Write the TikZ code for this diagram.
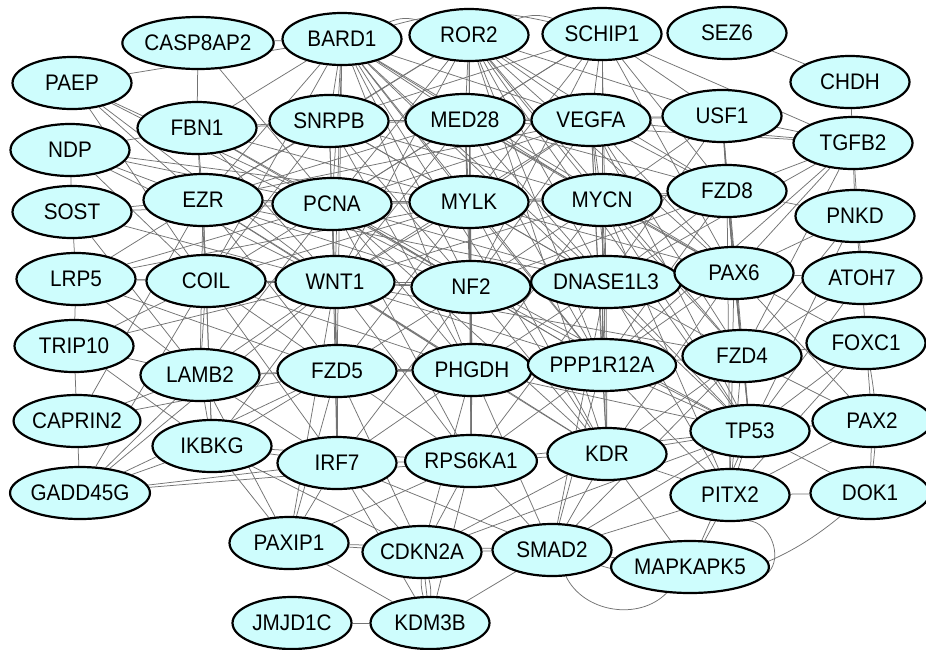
\documentclass[tikz,border=0pt]{standalone}
\usepackage{fontspec}
\setmainfont{Liberation Sans}[FakeStretch=0.92]
\usetikzlibrary{shapes.geometric,backgrounds}
\definecolor{nodefill}{RGB}{206,253,253}
\definecolor{edgecol}{RGB}{115,115,115}
\tikzset{
  gene/.style={ellipse, draw=black, line width=2.2pt, fill=nodefill, minimum width=119pt, minimum height=52pt, inner sep=0pt, font=\fontsize{22.5}{24}\selectfont},
  edge/.style={draw=edgecol, line width=0.75pt},
}
\begin{document}
\begin{tikzpicture}[x=1pt,y=-1pt]
\useasboundingbox (0,0) rectangle (926,649);
% nodes
\node[gene] (casp) at (198,43) {CASP8AP2};
\node[gene] (bard) at (342,39) {BARD1};
\node[gene] (ror) at (469,35) {ROR2};
\node[gene] (schip) at (602,34) {SCHIP1};
\node[gene] (sez) at (727,33) {SEZ6};
\node[gene] (chdh) at (850,82) {CHDH};
\node[gene] (paep) at (72,83) {PAEP};
\node[gene] (fbn) at (197,128) {FBN1};
\node[gene] (snrpb) at (329,121) {SNRPB};
\node[gene] (med) at (465,120) {MED28};
\node[gene] (vegfa) at (591,120) {VEGFA};
\node[gene] (usf) at (722,116) {USF1};
\node[gene] (tgfb) at (853,143) {TGFB2};
\node[gene] (ndp) at (70,150) {NDP};
\node[gene] (ezr) at (203,200) {EZR};
\node[gene] (pcna) at (332,204) {PCNA};
\node[gene] (mylk) at (469,202) {MYLK};
\node[gene] (mycn) at (602,200) {MYCN};
\node[gene] (fzd8) at (727,191) {FZD8};
\node[gene] (pnkd) at (855,216) {PNKD};
\node[gene] (sost) at (72,212) {SOST};
\node[gene] (lrp) at (76,279) {LRP5};
\node[gene] (coil) at (206,281) {COIL};
\node[gene] (wnt) at (335,282) {WNT1};
\node[gene] (nf) at (471,287) {NF2};
\node[gene] (dnase) at (606,282) {DNASE1L3};
\node[gene] (pax6) at (734,273) {PAX6};
\node[gene] (atoh) at (862,278) {ATOH7};
\node[gene] (trip) at (74,346) {TRIP10};
\node[gene] (lamb) at (200,375) {LAMB2};
\node[gene] (fzd5) at (337,371) {FZD5};
\node[gene] (phgdh) at (472,370) {PHGDH};
\node[gene] (ppp) at (602,365) {PPP1R12A};
\node[gene] (fzd4) at (742,356) {FZD4};
\node[gene] (foxc) at (866,343) {FOXC1};
\node[gene] (caprin) at (77,421) {CAPRIN2};
\node[gene] (ikbkg) at (212,446) {IKBKG};
\node[gene] (irf) at (337,463) {IRF7};
\node[gene] (rps) at (471,461) {RPS6KA1};
\node[gene] (kdr) at (607,454) {KDR};
\node[gene] (tp53) at (750,431) {TP53};
\node[gene] (pax2) at (872,421) {PAX2};
\node[gene] (gadd) at (80,493) {GADD45G};
\node[gene] (pitx) at (730,495) {PITX2};
\node[gene] (dok) at (870,493) {DOK1};
\node[gene] (paxip) at (289,543) {PAXIP1};
\node[gene] (cdkn) at (422,552) {CDKN2A};
\node[gene] (smad) at (552,550) {SMAD2};
\node[gene] (mapk) at (690,567) {MAPKAPK5};
\node[gene] (jmjd) at (292,623) {JMJD1C};
\node[gene] (kdm) at (430,623) {KDM3B};
% edges
\begin{pgfonlayer}{background}
\fill[white] (0,0) rectangle (926,649);
\foreach \a/\b in {
casp/bard, casp/fbn, casp/pcna,
paep/bard, paep/ezr, paep/coil, paep/wnt, paep/pcna, paep/nf,
ndp/sost, ndp/fbn, ndp/ezr, ndp/wnt, ndp/mylk, ndp/pcna, ndp/coil,
sost/lrp, sost/ezr, sost/wnt, sost/lamb, sost/pcna,
lrp/coil, lrp/trip, lrp/ezr, lrp/wnt, lrp/fzd5, lrp/lamb, lrp/pcna, lrp/mylk,
trip/caprin, trip/lamb, trip/ikbkg, trip/coil, trip/wnt,
caprin/gadd, caprin/lamb, caprin/ezr, caprin/fzd5,
gadd/ikbkg, gadd/lamb, gadd/irf, gadd/coil, gadd/wnt, gadd/rps, gadd/fzd5,
fbn/ezr, fbn/snrpb, fbn/pcna, fbn/mylk, fbn/coil, fbn/wnt, fbn/med, fbn/nf,
bard/snrpb, bard/pcna, bard/med, bard/mylk, bard/mycn, bard/vegfa, bard/ezr, bard/wnt, bard/nf, bard/dnase, bard/fbn, bard/coil, bard/phgdh, bard/ppp, bard/pax6, bard/tp53, bard/kdr, bard/fzd5,
ror/med, ror/mylk, ror/nf, ror/pcna, ror/snrpb, ror/vegfa, ror/mycn, ror/dnase, ror/fzd8, ror/pax6, ror/wnt, ror/ezr, ror/phgdh, ror/ppp, ror/usf, ror/fzd4, ror/tp53, ror/kdr, ror/rps,
schip/vegfa, schip/mycn, schip/usf, schip/tgfb, schip/fzd8, schip/med, schip/mylk, schip/dnase, schip/nf, schip/pcna, schip/pax6, schip/snrpb, schip/ppp,
sez/chdh, chdh/tgfb,
usf/tgfb, usf/fzd8, usf/mycn, usf/pax6, usf/vegfa, usf/med, usf/dnase, usf/tp53, usf/fzd4,
tgfb/pnkd, tgfb/vegfa, tgfb/pax6, tgfb/fzd8, tgfb/dnase, tgfb/ppp, tgfb/fzd4, tgfb/atoh, tgfb/med,
pnkd/atoh, pnkd/fzd8, pnkd/pax6, pnkd/fzd4, pnkd/tp53,
atoh/foxc, atoh/pax6, atoh/fzd4, atoh/tp53,
foxc/pax6, foxc/fzd4, foxc/tp53, foxc/pitx, foxc/pax2,
pax2/tp53, pax2/dok, pax2/pitx, pax2/fzd4, pax2/pax6,
dok/pitx, dok/tp53,
snrpb/pcna, snrpb/med, snrpb/mylk, snrpb/mycn, snrpb/ezr, snrpb/wnt, snrpb/nf, snrpb/vegfa, snrpb/dnase, snrpb/phgdh, snrpb/coil,
med/mylk, med/vegfa, med/pcna, med/mycn, med/nf, med/dnase, med/wnt, med/ezr, med/phgdh, med/ppp, med/fzd8, med/pax6,
vegfa/mycn, vegfa/mylk, vegfa/dnase, vegfa/fzd8, vegfa/pcna, vegfa/nf, vegfa/pax6, vegfa/ppp, vegfa/kdr, vegfa/tp53, vegfa/fzd4, vegfa/wnt, vegfa/ezr,
ezr/pcna, ezr/coil, ezr/wnt, ezr/mylk, ezr/nf, ezr/lamb, ezr/fzd5, ezr/ikbkg, ezr/phgdh, ezr/dnase,
pcna/mylk, pcna/wnt, pcna/nf, pcna/coil, pcna/mycn, pcna/dnase, pcna/fzd5, pcna/phgdh, pcna/ppp, pcna/irf, pcna/rps, pcna/lamb, pcna/tp53, pcna/kdr,
mylk/mycn, mylk/nf, mylk/wnt, mylk/dnase, mylk/phgdh, mylk/ppp, mylk/pax6, mylk/fzd8, mylk/fzd5, mylk/coil, mylk/kdr, mylk/rps,
mycn/dnase, mycn/fzd8, mycn/pax6, mycn/nf, mycn/ppp, mycn/kdr, mycn/tp53, mycn/fzd4, mycn/phgdh, mycn/wnt, mycn/pitx,
fzd8/pax6, fzd8/dnase, fzd8/fzd4, fzd8/tp53, fzd8/ppp, fzd8/nf, fzd8/pitx,
coil/wnt, coil/lamb, coil/fzd5, coil/nf, coil/ikbkg, coil/irf, coil/phgdh,
wnt/nf, wnt/fzd5, wnt/phgdh, wnt/dnase, wnt/lamb, wnt/irf, wnt/ikbkg, wnt/rps, wnt/ppp, wnt/fzd4, wnt/kdr, wnt/paxip,
nf/dnase, nf/phgdh, nf/ppp, nf/rps, nf/fzd5, nf/kdr, nf/pax6, nf/irf, nf/tp53,
dnase/pax6, dnase/ppp, dnase/phgdh, dnase/fzd4, dnase/kdr, dnase/tp53, dnase/rps, dnase/pitx, dnase/smad,
pax6/fzd4, pax6/tp53, pax6/ppp, pax6/pitx, pax6/kdr,
lamb/ikbkg, lamb/fzd5, lamb/irf, lamb/paxip, lamb/phgdh,
fzd5/phgdh, fzd5/irf, fzd5/ikbkg, fzd5/rps, fzd5/cdkn, fzd5/paxip, fzd5/ppp,
phgdh/ppp, phgdh/rps, phgdh/kdr, phgdh/irf, phgdh/smad, phgdh/tp53, phgdh/cdkn,
ppp/kdr, ppp/fzd4, ppp/tp53, ppp/rps, ppp/smad, ppp/pitx,
fzd4/tp53, fzd4/pitx, fzd4/kdr, fzd4/smad,
ikbkg/irf, ikbkg/paxip, ikbkg/rps, ikbkg/cdkn,
irf/paxip, irf/rps, irf/cdkn, irf/smad, irf/kdm,
rps/kdr, rps/cdkn, rps/smad, rps/paxip, rps/kdm, rps/tp53,
kdr/tp53, kdr/smad, kdr/pitx, kdr/cdkn, kdr/mapk,
tp53/pitx, tp53/smad, tp53/mapk, tp53/cdkn,
pitx/mapk, pitx/smad,
paxip/cdkn, paxip/kdm, paxip/smad,
cdkn/smad, cdkn/kdm,
jmjd/kdm, kdm/smad, smad/mapk}
  \draw[edge] (\a) -- (\b);
% curved edges
\draw[edge] (bard) to[bend left=18] (ror);
\draw[edge] (bard) to[bend left=14] (schip);
\draw[edge] (ror) to[bend left=18] (schip);
\draw[edge] (smad) to[bend right=55] (mapk);
\draw[edge] (smad) to[bend right=28] (dok);
\draw[edge] (mapk) to[bend right=65] (pitx);
\draw[edge] (foxc) to[bend left=8] (dok);
\draw[edge] (cdkn) to[bend left=8] (kdm);
\draw[edge] (cdkn) to[bend right=8] (kdm);
\end{pgfonlayer}
\end{tikzpicture}
\end{document}
